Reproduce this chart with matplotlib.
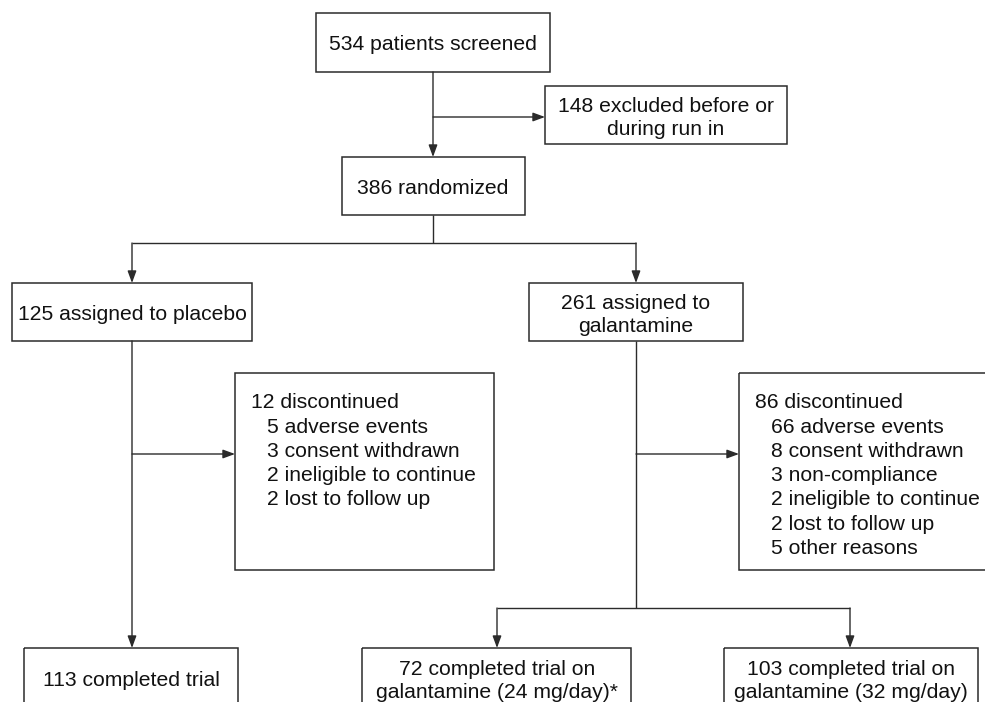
import matplotlib
matplotlib.use("Agg")
import matplotlib.pyplot as plt
from matplotlib.patches import Rectangle

plt.rcParams['font.family'] = ['Liberation Sans', 'DejaVu Sans']

# numbers in the flow
n_screened = 534
n_excluded = 148
n_randomized = 386
n_placebo = 125
n_galantamine = 261
n_completed_placebo = 113
n_completed_24 = 72
n_completed_32 = 103

placebo_disc_counts = [5, 3, 2, 2]
placebo_disc_reasons = ["adverse events", "consent withdrawn",
                        "ineligible to continue", "lost to follow up"]
gal_disc_counts = [66, 8, 3, 2, 2, 5]
gal_disc_reasons = ["adverse events", "consent withdrawn", "non-compliance",
                    "ineligible to continue", "lost to follow up", "other reasons"]

LINE = "#2b2b2b"
FS = 15.2
LSTEP = 24.2

fig = plt.figure(figsize=(9.85, 7.02), dpi=100)
ax = fig.add_axes([0, 0, 1, 1])
ax.set_xlim(0, 985)
ax.set_ylim(702, 0)
ax.axis("off")


def box(x0, y0, x1, y1):
    ax.add_patch(Rectangle((x0, y0), x1 - x0, y1 - y0, fill=False,
                           edgecolor=LINE, lw=1.1))


def centered(cx, cy, lines):
    step = 23
    top = cy - (len(lines) - 1) * step / 2
    for i, s in enumerate(lines):
        ax.text(cx, top + i * step, s, ha="center", va="center_baseline",
                fontsize=FS, color="#111111")


def listing(x, y, head, counts, reasons):
    ax.text(x, y, head, ha="left", va="center_baseline", fontsize=FS, color="#111111")
    for i, (c, r) in enumerate(zip(counts, reasons)):
        ax.text(x + 16, y + (i + 1) * LSTEP, f"{c} {r}", ha="left",
                va="center_baseline", fontsize=FS, color="#111111")


def line(pts):
    xs, ys = zip(*pts)
    ax.plot(xs, ys, color=LINE, lw=1.0, solid_capstyle="butt")


def arrow(p0, p1):
    ax.annotate("", xy=p1, xytext=p0,
                arrowprops=dict(arrowstyle="-|>,head_length=0.6,head_width=0.22",
                                color=LINE, lw=1.0, shrinkA=0, shrinkB=0,
                                mutation_scale=12))


# boxes
box(316, 13, 550, 72)
centered(433, 43, [f"{n_screened} patients screened"])

box(545, 86, 787, 144)
centered(666, 116, [f"{n_excluded} excluded before or", "during run in"])

box(342, 157, 525, 215)
centered(433, 187, [f"{n_randomized} randomized"])

box(12, 283, 252, 341)
centered(132, 313, [f"{n_placebo} assigned to placebo"])

box(529, 283, 743, 341)
centered(636, 313, [f"{n_galantamine} assigned to", "galantamine"])

box(235, 373, 494, 570)
listing(251, 401, f"{sum(placebo_disc_counts)} discontinued",
        placebo_disc_counts, placebo_disc_reasons)

box(739, 373, 1000, 570)
listing(755, 401, f"{sum(gal_disc_counts)} discontinued",
        gal_disc_counts, gal_disc_reasons)

box(24, 648, 238, 720)
centered(131, 678, [f"{n_completed_placebo} completed trial"])

box(362, 648, 631, 720)
centered(497, 679, [f"{n_completed_24} completed trial on",
                    "galantamine (24 mg/day)*"])

box(724, 648, 978, 720)
centered(851, 679, [f"{n_completed_32} completed trial on",
                    "galantamine (32 mg/day)"])

# connectors
arrow((433, 72), (433, 157))
arrow((433, 117), (545, 117))

line([(433, 215), (433, 243)])
line([(132, 243), (636, 243)])
arrow((132, 243), (132, 283))
arrow((636, 243), (636, 283))

arrow((132, 341), (132, 648))
arrow((132, 454), (235, 454))

line([(636, 341), (636, 608)])
arrow((636, 454), (739, 454))
line([(497, 608), (850, 608)])
arrow((497, 608), (497, 648))
arrow((850, 608), (850, 648))

fig.savefig("out.png", dpi=100)
